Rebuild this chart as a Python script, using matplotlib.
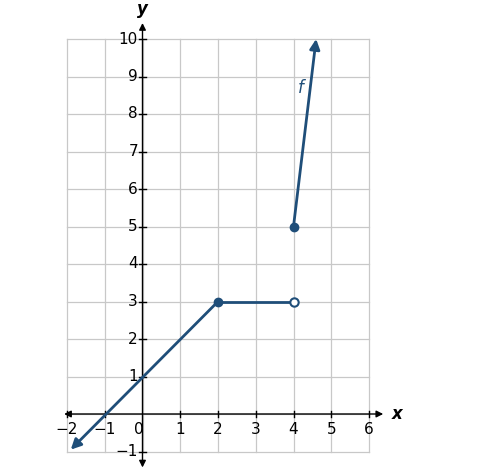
import matplotlib
matplotlib.use("Agg")
import matplotlib.pyplot as plt

seg1_x = [-1.9, 2]; seg1_y = [-0.95, 3]
seg2_x = [2, 4]; seg2_y = [3, 3]
seg3_x = [4, 4.6]; seg3_y = [5, 10]
closed_x = [2, 4]; closed_y = [3, 5]
open_x = [4]; open_y = [3]
xticks = [-2, -1, 1, 2, 3, 4, 5, 6]
yticks = [-1, 1, 2, 3, 4, 5, 6, 7, 8, 9, 10]

C = "#1f4e79"
fig = plt.figure(figsize=(4.87, 4.76), dpi=100)
xl, xr, yb, yt = -2.3, 6.8, -1.6, 10.6
W, H = 487, 476
px = lambda x: 142.5 + x * 37.75
py = lambda y: 414 - y * 37.5
ax = fig.add_axes([px(xl)/W, 1 - py(yb)/H, (px(xr)-px(xl))/W, (py(yb)-py(yt))/H])
ax.set_xlim(xl, xr); ax.set_ylim(yb, yt)
ax.axis("off")
for x in range(-2, 7):
    ax.plot([x, x], [-1, 10], color="#c8c8c8", lw=0.9, zorder=0)
for y in range(-1, 11):
    ax.plot([-2, 6], [y, y], color="#c8c8c8", lw=0.9, zorder=0)
ax.annotate("", xy=(-2.15, 0), xytext=(6.45, 0), arrowprops=dict(arrowstyle="<|-|>", color="black", lw=1, mutation_scale=10))
ax.annotate("", xy=(0, -1.5), xytext=(0, 10.5), arrowprops=dict(arrowstyle="<|-|>", color="black", lw=1, mutation_scale=10))
ax.text(6.6, 0, "x", style="italic", weight="bold", fontsize=12, va="center", ha="left")
ax.text(0, 10.55, "y", style="italic", weight="bold", fontsize=12, va="bottom", ha="center")
for x in xticks:
    ax.plot([x, x], [-0.08, 0.08], color="black", lw=1)
    ax.text(x, -0.2, f"{x}".replace("-", "\u2212"), ha="center", va="top", fontsize=11)
ax.text(-0.1, -0.2, "0", ha="center", va="top", fontsize=11)
for y in yticks:
    ax.plot([-0.08, 0.08], [y, y], color="black", lw=1)
    ax.text(-0.12, y, f"{y}".replace("-", "\u2212"), ha="right", va="center", fontsize=11)

ax.annotate("", xy=(seg1_x[0], seg1_y[0]), xytext=(seg1_x[1], seg1_y[1]),
            arrowprops=dict(arrowstyle="-|>", color=C, lw=2, mutation_scale=15, shrinkA=0, shrinkB=0))
ax.plot(seg2_x, seg2_y, color=C, lw=2)
ax.annotate("", xy=(seg3_x[1], seg3_y[1]), xytext=(seg3_x[0], seg3_y[0]),
            arrowprops=dict(arrowstyle="-|>", color=C, lw=2, mutation_scale=15, shrinkA=0, shrinkB=0))
ax.plot(closed_x, closed_y, "o", color=C, ms=6, zorder=5)
ax.plot(open_x, open_y, "o", mfc="white", mec=C, mew=1.5, ms=6, zorder=5)
ax.text(4.2, 8.7, "f", style="italic", color=C, fontsize=12, ha="center", va="center")
fig.savefig("out.png", dpi=100)
